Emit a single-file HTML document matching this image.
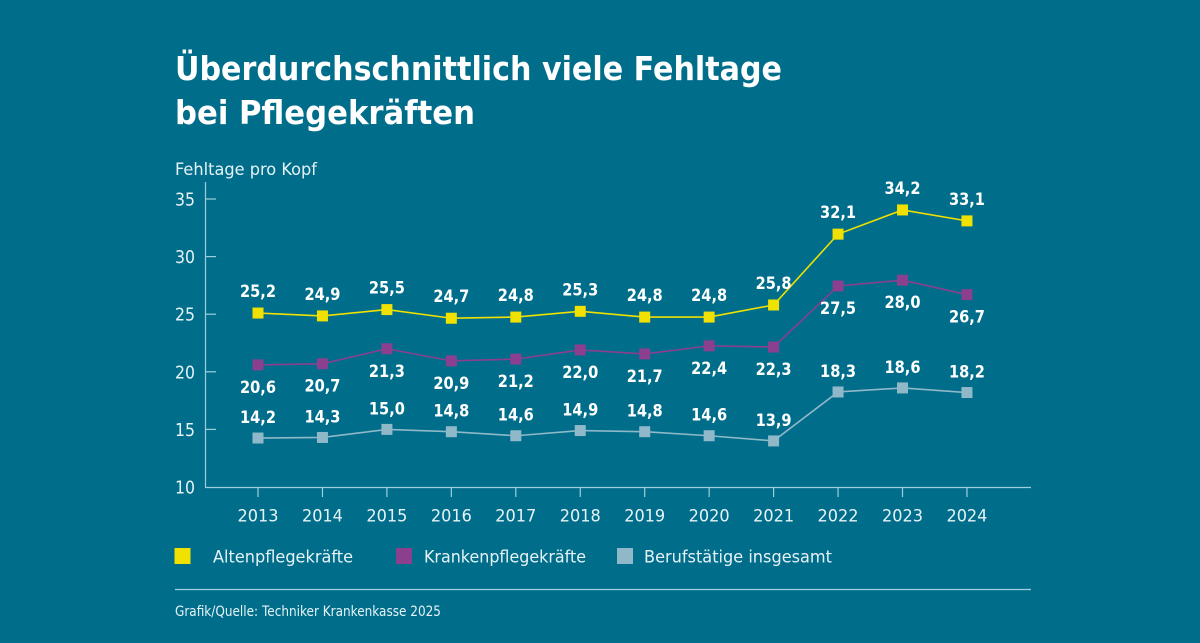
<!DOCTYPE html>
<html lang="de">
<head>
<meta charset="utf-8">
<title>Überdurchschnittlich viele Fehltage bei Pflegekräften</title>
<style>
html,body{margin:0;padding:0;background:#006e8b;}
svg{display:block;}
text{font-family:"DejaVu Sans","Liberation Sans",sans-serif;fill:#e6f3f6;}
.title{font-family:"DejaVu Sans","Liberation Sans",sans-serif;font-weight:700;font-size:33px;fill:#fff;}
.val{font-weight:700;font-size:16.5px;fill:#fff;text-anchor:middle;}
</style>
</head>
<body>
<svg id="chart" xmlns="http://www.w3.org/2000/svg" width="1200" height="643" viewBox="0 0 1200 643">
  <rect x="0" y="0" width="1200" height="643" fill="#006e8b"/>
  <text class="title" x="175" y="80" textLength="607" lengthAdjust="spacingAndGlyphs">Überdurchschnittlich viele Fehltage</text>
  <text class="title" x="175" y="124" textLength="300" lengthAdjust="spacingAndGlyphs">bei Pflegekräften</text>
  <text x="175" y="175" font-size="17" textLength="142" lengthAdjust="spacingAndGlyphs">Fehltage pro Kopf</text>
  <g id="axes"></g>
  <g id="series"></g>
  <g>
    <rect x="174.5" y="548" width="16" height="16" fill="#f0e100"/>
    <text x="213" y="562.5" font-size="17" textLength="140" lengthAdjust="spacingAndGlyphs">Altenpflegekräfte</text>
    <rect x="396" y="548" width="16" height="16" fill="#8a3f8f"/>
    <text x="424" y="562.5" font-size="17" textLength="162" lengthAdjust="spacingAndGlyphs">Krankenpflegekräfte</text>
    <rect x="617" y="548" width="16" height="16" fill="#8fb8c8"/>
    <text x="644" y="562.5" font-size="17" textLength="188" lengthAdjust="spacingAndGlyphs">Berufstätige insgesamt</text>
  </g>
  <line x1="175" y1="589.5" x2="1031" y2="589.5" stroke="#9fcfdc" stroke-width="1.2"/>
  <text x="175" y="616" font-size="14" textLength="266" lengthAdjust="spacingAndGlyphs">Grafik/Quelle: Techniker Krankenkasse 2025</text>
</svg>
<script>
var years = ['2013','2014','2015','2016','2017','2018','2019','2020','2021','2022','2023','2024'];
var yTicks = [10,15,20,25,30,35];

var altenValues = [25.1,24.85,25.4,24.65,24.75,25.25,24.75,24.75,25.8,31.95,34.05,33.1];
var altenLabels = ['25,2','24,9','25,5','24,7','24,8','25,3','24,8','24,8','25,8','32,1','34,2','33,1'];

var krankenValues = [20.6,20.7,22.0,20.95,21.1,21.9,21.55,22.25,22.15,27.45,27.95,26.7];
var krankenLabels = ['20,6','20,7','21,3','20,9','21,2','22,0','21,7','22,4','22,3','27,5','28,0','26,7'];

var gesamtValues = [14.25,14.3,15.0,14.8,14.45,14.9,14.8,14.45,14.0,18.25,18.6,18.2];
var gesamtLabels = ['14,2','14,3','15,0','14,8','14,6','14,9','14,8','14,6','13,9','18,3','18,6','18,2'];

var NS = 'http://www.w3.org/2000/svg';
var axisColor = '#9fcfdc';
function xScale(i){ return 258 + i * 64.45; }
function yScale(v){ return 487 - (v - 10) * 11.52; }
function make(tag, attrs, parent){
  var el = document.createElementNS(NS, tag);
  for (var k in attrs) el.setAttribute(k, attrs[k]);
  parent.appendChild(el);
  return el;
}

var axes = document.getElementById('axes');
var yLine = make('line', {x1:205.5,y1:182,x2:205.5,y2:487.5,stroke:axisColor,'stroke-width':1.2}, axes);


var xLine = make('line', {x1:205,y1:487.5,x2:1031,y2:487.5,stroke:axisColor,'stroke-width':1.2}, axes);



yTicks.forEach(function(t){
  var y = yScale(t);
  if (t !== 10) {
    var tick = make('line', {x1:205.5,y1:y,x2:216,y2:y,stroke:axisColor,'stroke-width':1.2}, axes);
    
    
  }
  var lab = make('text', {x:175,y:y+6.5,'font-size':17.5,textLength:20,lengthAdjust:'spacingAndGlyphs'}, axes);
  lab.textContent = String(t);
  
  
});

years.forEach(function(yr, i){
  var x = xScale(i);
  var tick = make('line', {x1:x,y1:487.5,x2:x,y2:497,stroke:axisColor,'stroke-width':1.2}, axes);
  
  
  var lab = make('text', {x:x,y:521.5,'font-size':17,'text-anchor':'middle',textLength:41,lengthAdjust:'spacingAndGlyphs'}, axes);
  lab.textContent = yr;
  
  
});

function drawSeries(key, values, labels, color, labelOffset){
  var root = document.getElementById('series');
  var g = make('g', {}, root);
  
  
  var pts = values.map(function(v, i){ return xScale(i) + ',' + yScale(v); }).join(' ');
  var line = make('polyline', {points:pts,fill:'none',stroke:color,'stroke-width':1.6}, g);
  
  
  values.forEach(function(v, i){
    var x = xScale(i), y = yScale(v);
    var pt = make('rect', {x:x-5.5,y:y-5.5,width:11,height:11,fill:color}, g);
    
    
    var lab = make('text', {x:x,y:y+labelOffset+6,'class':'val',textLength:36,lengthAdjust:'spacingAndGlyphs'}, g);
    lab.textContent = labels[i];
    
    
  });
}
drawSeries('gesamt', gesamtValues, gesamtLabels, '#8fb8c8', -21);
drawSeries('krankenpflege', krankenValues, krankenLabels, '#8a3f8f', 22);
drawSeries('altenpflege', altenValues, altenLabels, '#f0e100', -22);
</script>
</body>
</html>
